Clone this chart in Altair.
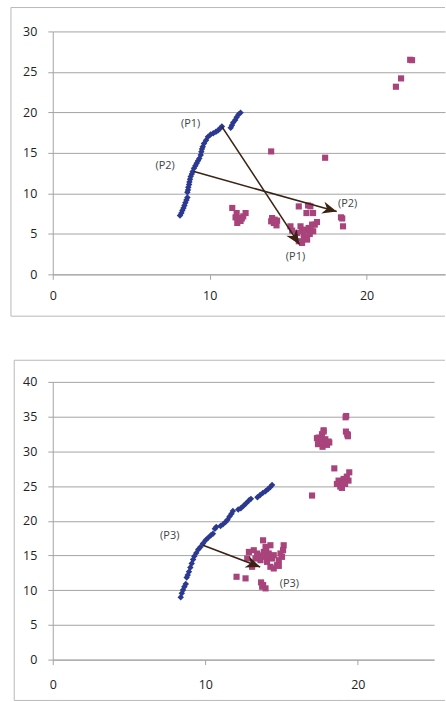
import math
import altair as alt
import pandas as pd

FONT = "Open Sans"
BLUE = "#2b3990"
PINK = "#a8437b"
ARROW = "#3b2314"
GRID = "#a3a3a3"
FRAME = "#b8b8b8"
LABEL = "#222222"
NOTE = "#444444"

# ---------- upper panel ----------
upper_curve_x = [8.11, 8.20, 8.26, 8.33, 8.39, 8.45, 8.52, 8.58, 8.58, 8.62, 8.64, 8.69,
                 8.71, 8.75, 8.79, 8.86, 8.92, 9.00, 9.09, 9.17, 9.26, 9.34, 9.43, 9.47,
                 9.51, 9.56, 9.64, 9.77, 9.89, 10.06, 10.23, 10.40, 10.53, 10.66, 10.78,
                 11.34, 11.42, 11.50, 11.63, 11.72, 11.84, 11.97]
upper_curve_y = [7.28, 7.57, 7.90, 8.18, 8.51, 8.84, 9.17, 9.49, 10.15, 10.43, 10.76, 11.09,
                 11.42, 11.74, 12.07, 12.40, 12.69, 13.09, 13.42, 13.71, 14.04, 14.32, 14.73, 15.14,
                 15.47, 15.76, 16.17, 16.57, 16.98, 17.27, 17.43, 17.60, 17.76, 18.01, 18.25,
                 18.09, 18.42, 18.74, 19.07, 19.40, 19.73, 19.97]
upper_cloud_x = [11.44, 11.72, 11.80, 11.76, 11.97, 12.14, 12.29, 11.65, 12.05,
                 13.98, 14.09, 14.26, 14.30, 13.92, 14.15,
                 15.68, 16.27, 16.42, 16.17, 16.59, 16.84, 16.70,
                 15.15, 15.26, 15.57, 15.79, 15.89, 16.10, 16.31, 16.53, 16.38, 16.00, 16.00,
                 16.21, 15.89, 15.68, 16.60, 16.45,
                 18.37, 18.45, 18.50,
                 13.92, 17.36,
                 21.87, 22.20, 22.78, 22.90]
upper_cloud_y = [8.20, 7.57, 6.95, 6.35, 6.60, 7.16, 7.57, 7.04, 6.90,
                 6.95, 6.34, 6.05, 6.63, 6.55, 6.75,
                 8.39, 8.51, 8.40, 7.57, 7.57, 6.46, 6.14,
                 5.93, 5.40, 5.11, 5.93, 5.32, 5.52, 5.73, 6.14, 4.99, 4.99, 4.50,
                 4.29, 3.88, 4.09, 5.32, 5.40,
                 7.04, 6.90, 5.93,
                 15.18, 14.40,
                 23.17, 24.20, 26.50, 26.45]
upper_arrow_x0 = [10.78, 9.00]
upper_arrow_y0 = [18.25, 12.69]
upper_arrow_x1 = [15.72, 18.10]
upper_arrow_y1 = [3.70, 7.75]
upper_label_text = ["(P1)", "(P2)", "(P1)", "(P2)"]
upper_label_x = [8.79, 7.16, 15.47, 18.79]
upper_label_y = [18.52, 13.42, 2.12, 8.72]

# ---------- lower panel ----------
lower_curve_x = [8.39, 8.46, 8.54, 8.63, 8.72, 8.78, 8.85, 8.93, 9.02, 9.11, 9.20, 9.28,
                 9.41, 9.54, 9.68, 9.85, 10.02, 10.20, 10.37, 10.50, 10.63, 10.72, 11.00,
                 11.16, 11.33, 11.46, 11.59, 11.72, 11.81, 12.16, 12.33, 12.51, 12.68,
                 12.86, 12.99, 13.42, 13.60, 13.77, 13.95, 14.12, 14.25, 14.38]
lower_curve_y = [8.97, 9.55, 10.02, 10.50, 10.88, 11.84, 12.17, 12.65, 13.27, 13.84, 14.42, 14.89,
                 15.37, 15.85, 16.23, 16.71, 17.18, 17.57, 17.90, 18.14, 18.86, 19.09, 19.24,
                 19.48, 19.81, 20.14, 20.62, 21.00, 21.39, 21.62, 21.81, 22.15, 22.53,
                 22.91, 23.15, 23.39, 23.72, 24.01, 24.25, 24.58, 24.82, 25.16]
lower_cloud_x = [19.24, 19.20, 19.22, 19.31, 19.35, 19.35,
                 17.76, 17.65, 17.32, 17.54, 17.87, 18.13, 17.39, 17.69, 17.98, 17.43, 17.65,
                 17.87, 18.08, 17.76,
                 18.46,
                 19.44, 18.74, 19.07, 19.39, 18.85, 19.17, 18.63, 18.96, 19.28, 19.00,
                 17.00,
                 13.79, 13.95, 14.27, 15.14, 15.10, 13.18, 12.86, 13.40, 13.84, 14.16, 14.49,
                 14.93, 12.75, 13.62, 14.05, 14.82, 15.03, 14.27, 14.71, 14.49, 14.82, 13.29,
                 13.84, 14.38, 13.07, 14.00, 14.10, 13.50,
                 12.05, 12.64, 13.66, 13.79, 13.95, 13.73]
lower_cloud_y = [35.08, 34.90, 32.84, 32.46, 32.17, 32.36,
                 33.03, 32.46, 31.89, 31.51, 31.74, 31.27, 31.03, 30.65, 30.93, 31.98, 31.74,
                 31.27, 31.41, 32.84,
                 27.54,
                 26.97, 25.78, 26.02, 25.78, 24.92, 25.30, 25.30, 24.73, 26.35, 25.50,
                 23.63,
                 17.18, 16.23, 16.47, 16.47, 15.75, 15.75, 15.51, 15.28, 15.51, 15.28, 15.04,
                 15.28, 14.56, 14.32, 14.08, 14.32, 14.80, 13.37, 13.60, 13.13, 13.50, 14.56,
                 14.80, 14.56, 13.37, 15.90, 14.90, 15.00,
                 11.93, 11.70, 11.12, 10.74, 10.26, 10.50]
lower_arrow_x0 = [9.85]
lower_arrow_y0 = [16.47]
lower_arrow_x1 = [13.60]
lower_arrow_y1 = [13.35]
lower_label_text = ["(P3)", "(P3)"]
lower_label_x = [7.67, 15.51]
lower_label_y = [17.76, 10.84]

X_MAX = 25
# arrowhead outline, tip at the symbol origin, pointing up before rotation
ARROW_HEAD = "M0,0L0.85,2L0,1.4L-0.85,2Z"


def panel(curve_x, curve_y, cloud_x, cloud_y, ax0, ay0, ax1, ay1,
          lab_text, lab_x, lab_y, y_max, width, height,
          frame_left, frame_top, frame_bottom, frame_right, x_label_pad):
    x_axis = alt.Axis(values=[0, 10, 20], grid=False, title=None,
                      domainColor=GRID, tickColor=GRID, tickSize=5,
                      labelFont=FONT, labelFontSize=12.5, labelColor=LABEL,
                      labelPadding=x_label_pad, labelFlush=False)
    y_axis = alt.Axis(values=list(range(0, y_max + 1, 5)), grid=True, title=None,
                      gridColor=GRID, domainColor=GRID, tickColor=GRID, tickSize=5,
                      labelFont=FONT, labelFontSize=12.5, labelColor=LABEL,
                      labelPadding=11, labelFlush=False)
    xs = alt.Scale(domain=[0, X_MAX], nice=False)
    ys = alt.Scale(domain=[0, y_max], nice=False)
    X = alt.X("x:Q", scale=xs, axis=x_axis)
    Y = alt.Y("y:Q", scale=ys, axis=y_axis)

    cloud = alt.Chart(pd.DataFrame({"x": cloud_x, "y": cloud_y})).mark_point(
        shape="square", filled=True, size=38, color=PINK, opacity=1
    ).encode(x=X, y=Y)

    curve = alt.Chart(pd.DataFrame({"x": curve_x, "y": curve_y})).mark_point(
        shape="diamond", filled=True, size=42, color=BLUE, opacity=1
    ).encode(x=X, y=Y)

    # arrow direction in screen space gives the rotation of each head
    sx = width / X_MAX
    sy = height / y_max
    angles = []
    for x0, y0, x1, y1 in zip(ax0, ay0, ax1, ay1):
        dx = (x1 - x0) * sx
        dy = -(y1 - y0) * sy
        angles.append(math.degrees(math.atan2(dx, -dy)) % 360)
    arrows_df = pd.DataFrame({"x": ax0, "y": ay0, "x2": ax1, "y2": ay1})
    heads_df = pd.DataFrame({"x": ax1, "y": ay1, "ang": angles})

    shafts = alt.Chart(arrows_df).mark_rule(color=ARROW, strokeWidth=1.6).encode(
        x=X, y=Y, x2="x2:Q", y2="y2:Q")
    heads = alt.Chart(heads_df).mark_point(
        shape=ARROW_HEAD, filled=True, size=210, color=ARROW, opacity=1
    ).encode(x=X, y=Y, angle=alt.Angle("ang:Q", scale=None))

    notes = alt.Chart(pd.DataFrame({"x": lab_x, "y": lab_y, "t": lab_text})).mark_text(
        font=FONT, fontSize=11, color=NOTE
    ).encode(x=X, y=Y, text="t:N")

    one = pd.DataFrame({"k": [0]})
    frame = [
        alt.Chart(one).mark_rule(color=FRAME, strokeWidth=1).encode(
            x=alt.value(frame_left), x2=alt.value(frame_right), y=alt.value(frame_top)),
        alt.Chart(one).mark_rule(color=FRAME, strokeWidth=1).encode(
            x=alt.value(frame_left), y=alt.value(frame_top), y2=alt.value(frame_bottom)),
    ]
    if frame_bottom < height + 60:
        frame.append(alt.Chart(one).mark_rule(color=FRAME, strokeWidth=1).encode(
            x=alt.value(frame_left), x2=alt.value(frame_right), y=alt.value(frame_bottom)))

    return alt.layer(*frame, cloud, curve, shafts, heads, notes).properties(
        width=width, height=height)


upper = panel(upper_curve_x, upper_curve_y, upper_cloud_x, upper_cloud_y,
              upper_arrow_x0, upper_arrow_y0, upper_arrow_x1, upper_arrow_y1,
              upper_label_text, upper_label_x, upper_label_y,
              y_max=30, width=394, height=244,
              frame_left=-42, frame_top=-24, frame_bottom=42 + 244, frame_right=394,
              x_label_pad=10)

lower = panel(lower_curve_x, lower_curve_y, lower_cloud_x, lower_cloud_y,
              lower_arrow_x0, lower_arrow_y0, lower_arrow_x1, lower_arrow_y1,
              lower_label_text, lower_label_x, lower_label_y,
              y_max=40, width=383, height=279,
              frame_left=-38.7, frame_top=-21.7, frame_bottom=320, frame_right=394,
              x_label_pad=14)

chart = alt.vconcat(upper, lower, spacing=108, bounds="flush").properties(
    padding={"left": 10, "top": 5, "right": 0, "bottom": 0},
    background="white",
).configure_view(strokeWidth=0)

chart.save("out.html", embed_options={"renderer": "svg", "actions": False})
